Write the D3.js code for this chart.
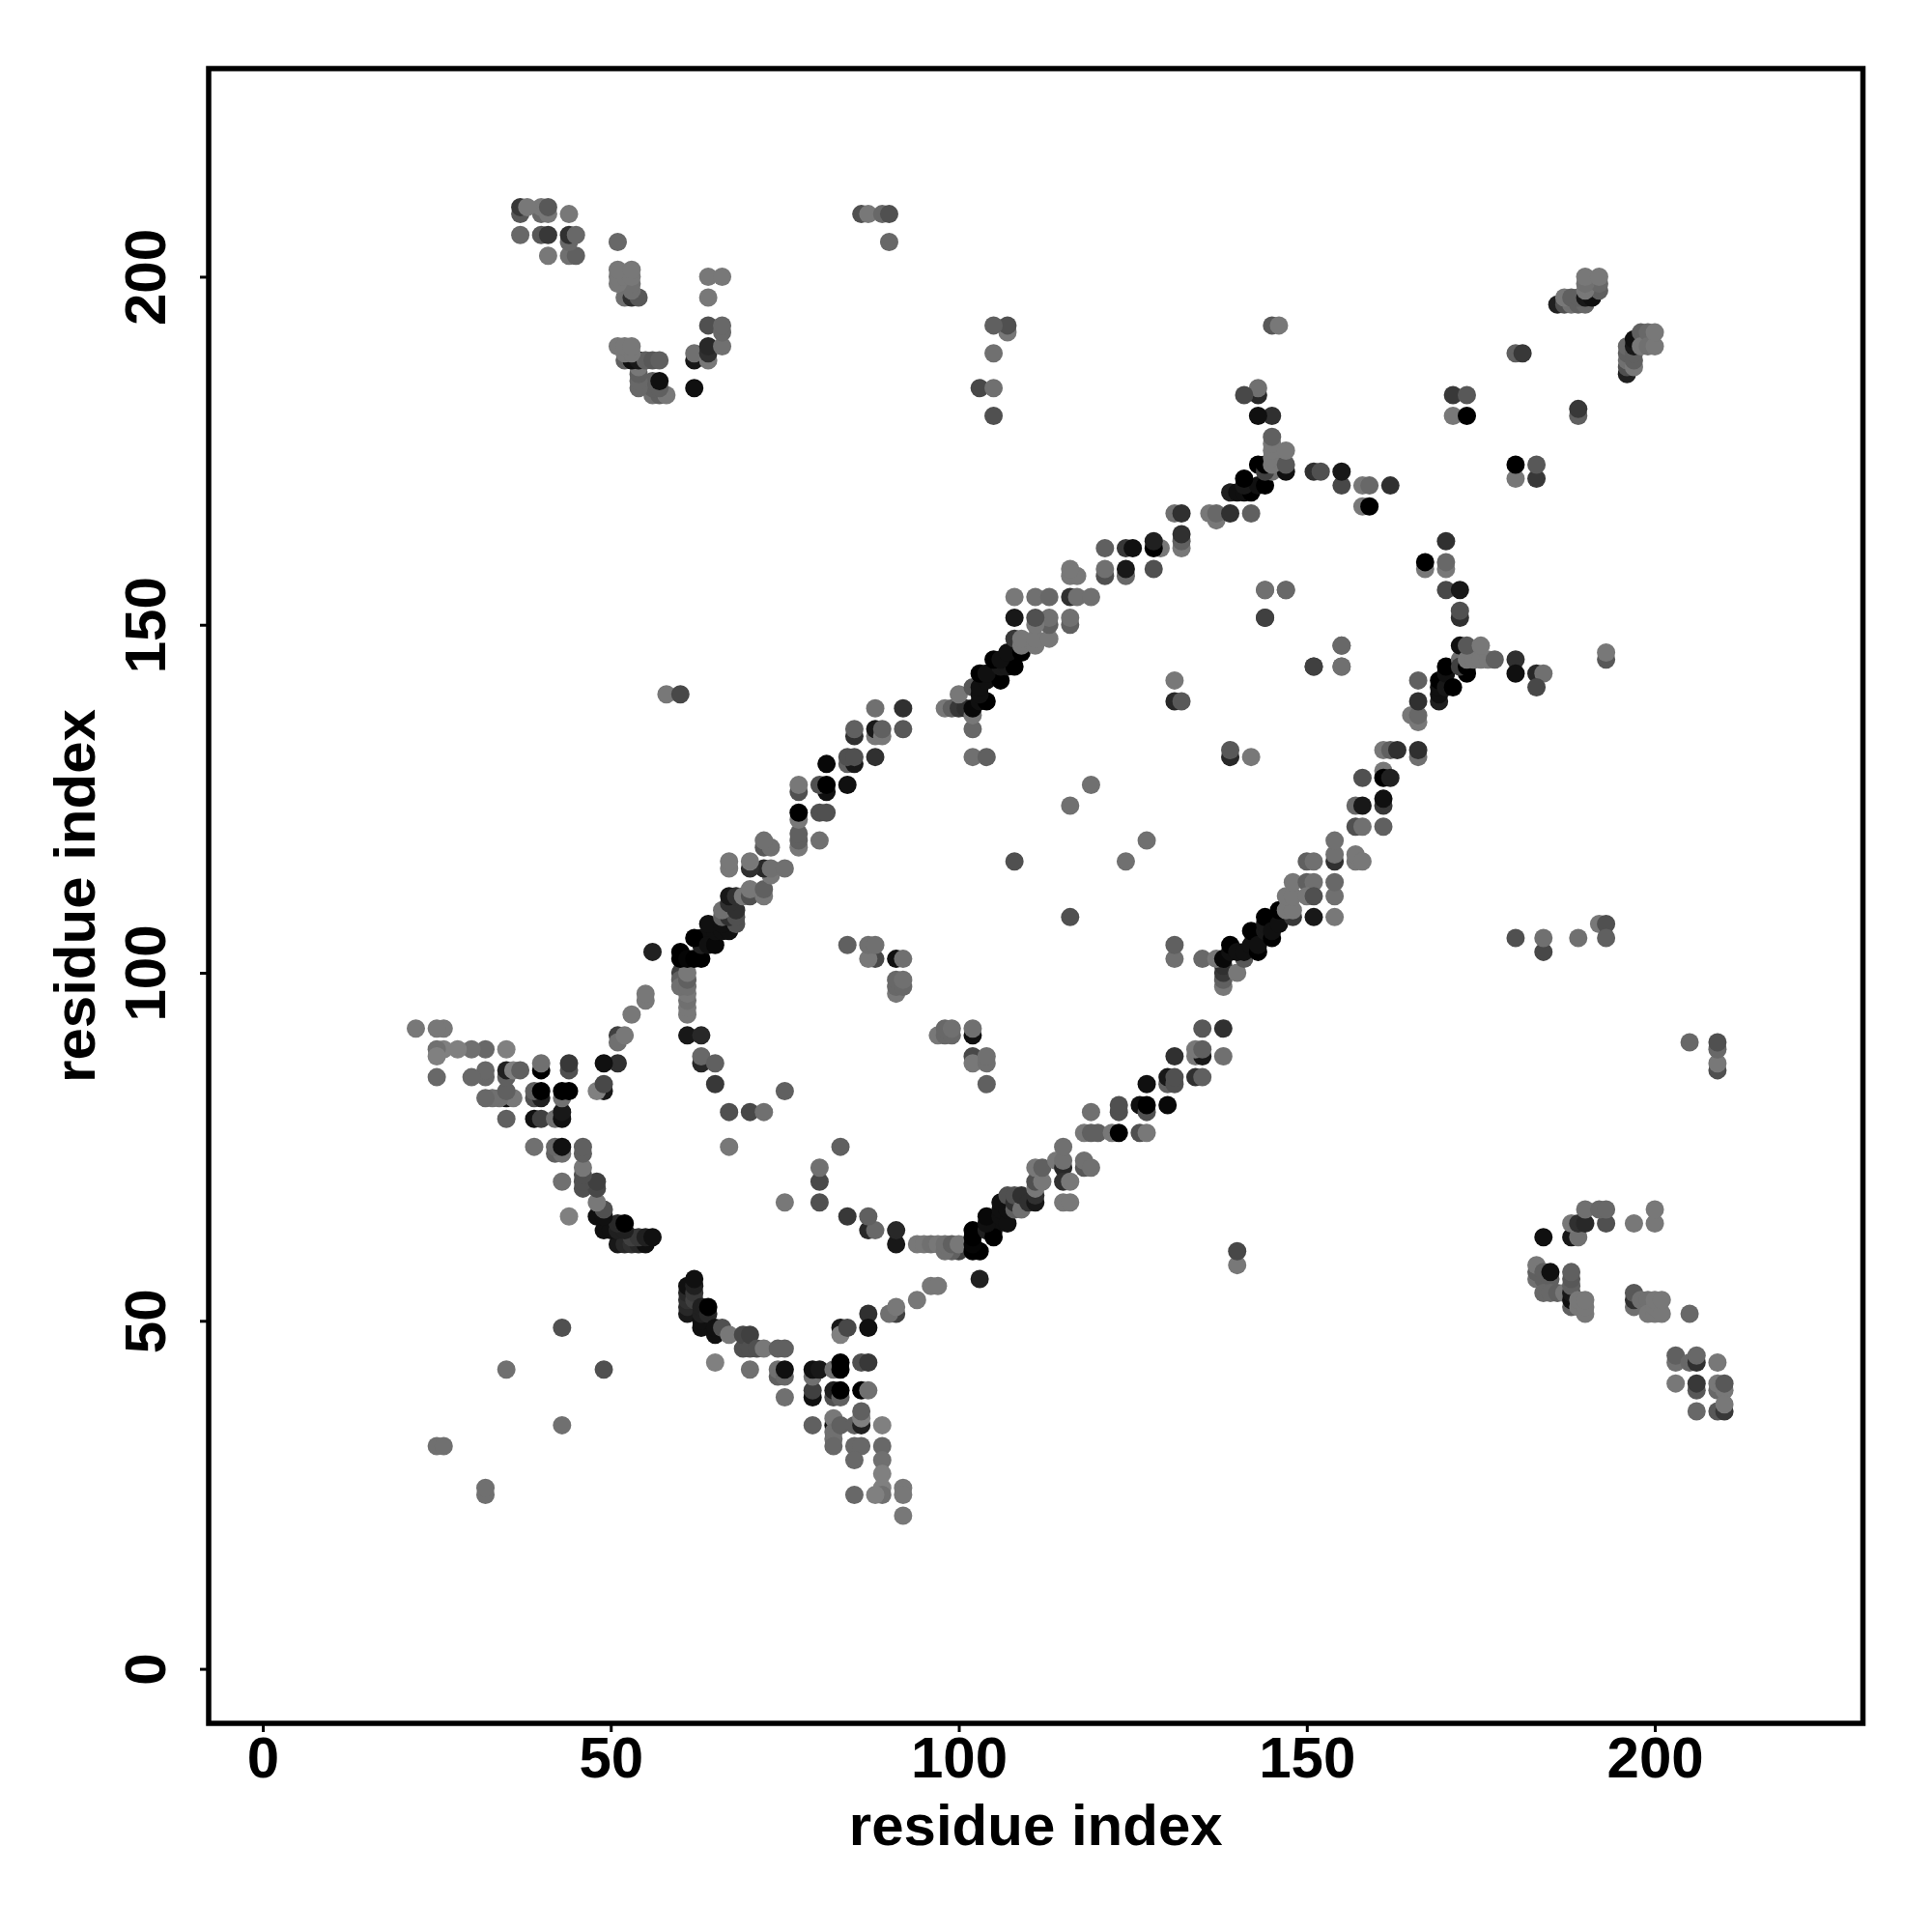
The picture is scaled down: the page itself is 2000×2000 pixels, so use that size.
<!DOCTYPE html>
<html><head><meta charset="utf-8">
<script src="https://cdn.jsdelivr.net/npm/d3@7"></script>
<style>html,body{margin:0;background:#fff}svg{display:block}text{font-family:"Liberation Sans",Arial,sans-serif;font-weight:700;fill:#000}</style>
</head><body><div id="chart"></div>
<script>
// Contact map: symmetric, so each array holds [i, j, grey] with i > j and its mirror [j, i] is drawn too.
const wingStem=[[61,51,0x18],[61,52,0x28],[61,53,0x30],[61,54,0x28],[61,55,0x10],[62,53,0x40],[62,54,0x38],[62,55,0x20],[62,56,0x10],[63,49,0x10],[63,50,0x10],[63,51,0x20],[63,52,0x20],[64,51,0x28],[64,52,0x00],[65,48,0x10],[65,49,0x10],[66,49,0x50],[67,48,0x78],[69,46,0x50],[69,48,0x48],[70,46,0x50],[70,48,0x40],[71,46,0x50],[72,46,0x78],[74,46,0x60],[75,46,0x60],[65,44,0x80],[70,43,0x70]];
const wingCluster=[[74,42,0x60],[74,43,0x70],[75,42,0x68],[75,43,0x10],[75,39,0x70],[79,35,0x60],[79,39,0x10],[79,40,0x40],[79,42,0x70],[79,43,0x10],[80,43,0x18],[82,43,0x70],[83,43,0x00],[83,44,0x00],[86,44,0x50],[87,44,0x38],[82,39,0x50],[82,40,0x20],[83,39,0x60],[83,40,0x00],[86,40,0x00],[87,40,0x70],[82,35,0x10],[82,36,0x78],[82,34,0x70],[82,33,0x70],[82,32,0x68],[83,35,0x60],[85,35,0x60],[86,35,0x20],[86,36,0x80],[86,37,0x60],[89,35,0x80],[85,32,0x68],[86,32,0x68],[89,32,0x68],[85,30,0x68],[89,30,0x70],[89,28,0x80],[89,26,0x80],[89,25,0x70],[88,25,0x80],[85,25,0x68],[92,26,0x78],[92,25,0x78],[92,22,0x78]];
const armToBand=[[83,49,0x18],[83,48,0x80],[84,49,0x48],[87,51,0x30],[87,49,0x10],[91,51,0x40],[90,51,0x70],[91,52,0x78],[94,53,0x78],[96,55,0x78],[97,55,0x78],[103,56,0x20]];
const innerCurve=[[87,63,0x28],[88,63,0x68],[87,65,0x60],[84,65,0x38],[80,67,0x50],[80,70,0x48],[80,72,0x70],[75,67,0x78],[83,75,0x60],[91,61,0x18],[91,63,0x28],[94,61,0x78],[95,61,0x78],[96,61,0x70],[97,61,0x78],[100,60,0x40],[99,60,0x60],[98,60,0x70],[98,61,0x70],[99,61,0x60],[100,61,0x78]];
const centreCluster=[[97,91,0x78],[98,91,0x68],[99,91,0x68],[98,92,0x68],[99,92,0x70],[102,91,0x10],[102,92,0x70],[102,88,0x48],[102,87,0x78],[104,87,0x70],[104,88,0x70],[104,84,0x60]];
const bandLowA=[[102,60,0x00],[103,60,0x00],[102,61,0x05],[102,62,0x00],[102,63,0x00],[104,63,0x20],[105,63,0x10],[105,62,0x00],[104,64,0x10],[104,65,0x08],[106,65,0x10],[106,66,0x10],[106,67,0x10],[107,64,0x10],[107,66,0x10],[107,68,0x50],[108,66,0x60],[108,67,0x30],[108,68,0x50],[109,66,0x70],[109,68,0x30],[110,67,0x30],[111,67,0x18],[111,68,0x30],[111,69,0x78],[111,70,0x50],[112,70,0x78],[111,72,0x78],[112,72,0x60],[114,73,0x78],[115,72,0x28],[115,70,0x30],[115,73,0x70],[115,75,0x70],[116,70,0x78],[118,72,0x58],[118,73,0x70],[119,72,0x70],[115,67,0x78],[116,67,0x78]];
const bandLowB=[[119,80,0x70],[118,77,0x78],[119,77,0x60],[120,77,0x60],[122,77,0x78],[123,77,0x00],[123,80,0x50],[123,81,0x50],[126,81,0x10],[127,80,0x50],[127,81,0x00],[126,77,0x50],[127,77,0x78],[127,84,0x10],[130,81,0x08],[130,84,0x60],[130,85,0x18],[131,84,0x50],[131,85,0x50],[131,88,0x30],[134,85,0x30],[135,85,0x60],[134,88,0x78],[135,88,0x18],[134,89,0x78],[135,89,0x60],[135,92,0x58],[138,92,0x30],[138,88,0x70]];
const bandLowC=[[138,98,0x78],[138,99,0x60],[138,100,0x38],[138,101,0x30],[135,102,0x68],[137,102,0x78],[138,102,0x08],[139,103,0x10],[139,104,0x00],[140,100,0x78],[141,102,0x58],[140,103,0x10],[141,103,0x10],[142,104,0x10],[142,106,0x00],[143,103,0x00],[143,104,0x10],[144,106,0x18],[144,107,0x18],[144,108,0x00],[145,105,0x00],[145,106,0x10],[146,107,0x10],[146,109,0x00],[148,108,0x38],[147,109,0x78],[148,109,0x78],[147,111,0x78],[148,111,0x78],[148,113,0x78]];
const bandLowD=[[150,113,0x60],[151,113,0x70],[150,111,0x78],[151,111,0x50],[151,108,0x18],[154,108,0x78],[154,111,0x70],[154,113,0x68],[150,116,0x60],[151,116,0x70],[154,116,0x30],[154,117,0x70],[154,119,0x70],[157,116,0x78],[157,117,0x78],[158,116,0x78],[157,121,0x50],[158,121,0x70],[161,121,0x60],[157,124,0x68],[158,124,0x18],[161,124,0x38],[161,125,0x10],[158,128,0x50],[161,129,0x78],[161,128,0x00],[162,128,0x20],[161,132,0x78],[162,132,0x60],[163,132,0x30],[166,131,0x70],[166,132,0x30],[165,137,0x78],[166,136,0x78],[166,137,0x68],[166,139,0x30],[169,139,0x20]];
const bandLowE=[[169,140,0x10],[169,141,0x10],[169,142,0x00],[166,142,0x60],[170,141,0x18],[170,143,0x10],[170,144,0x00],[171,141,0x00],[172,145,0x70],[173,143,0x00],[172,144,0x40],[173,144,0x00],[172,147,0x10],[173,145,0x78],[174,145,0x78],[173,147,0x58],[175,145,0x78],[176,145,0x78],[175,147,0x78],[177,145,0x60],[180,145,0x30],[180,143,0x10],[183,143,0x28],[184,143,0x70],[183,141,0x48]];
const spurUpper=[[167,158,0x78],[167,159,0x00],[170,162,0x30],[170,158,0x78],[170,159,0x68],[170,155,0x48],[172,155,0x18],[172,151,0x30],[172,152,0x50]];
const sparseMiddle=[[49,43,0x50],[43,35,0x70],[32,25,0x70],[32,26,0x70],[140,58,0x78],[140,60,0x48],[108,116,0x50],[124,116,0x70],[127,119,0x70],[131,102,0x70],[131,104,0x60],[142,131,0x78],[139,131,0x28],[139,132,0x58],[144,155,0x68],[147,155,0x68],[144,151,0x38],[151,144,0x40],[155,144,0x70],[155,147,0x68],[180,105,0x50],[184,103,0x48],[184,105,0x70],[189,105,0x70],[192,107,0x78],[193,107,0x50],[193,105,0x60],[193,145,0x58],[193,146,0x78],[189,180,0x60],[189,181,0x38],[180,171,0x78],[180,173,0x00],[183,171,0x38],[183,173,0x58]];
const cornerNearDiagonal=[[196,186,0x20],[196,187,0x50],[196,188,0x70],[196,189,0x60],[196,190,0x68],[197,187,0x78],[197,188,0x60],[197,189,0x60],[197,190,0x18],[197,191,0x10],[198,192,0x60],[198,190,0x78],[199,192,0x68],[199,190,0x70],[200,190,0x78],[200,192,0x78]];
const rightBlockA=[[184,62,0x10],[188,62,0x18],[189,62,0x70],[188,64,0x78],[189,64,0x30],[190,64,0x28],[193,64,0x50],[190,66,0x70],[192,66,0x68],[193,66,0x68],[197,64,0x78],[200,64,0x78],[200,66,0x78],[183,56,0x70],[183,57,0x60],[183,58,0x78],[184,56,0x60],[184,57,0x60],[185,56,0x60],[185,57,0x10],[184,54,0x68],[185,54,0x68],[186,54,0x60],[187,54,0x78],[188,52,0x60],[188,53,0x10],[188,54,0x18],[188,55,0x60],[188,56,0x58],[188,57,0x60],[189,52,0x78],[189,53,0x78],[190,51,0x78],[190,52,0x78],[190,53,0x78]];
const rightBlockB=[[197,52,0x70],[197,53,0x30],[197,54,0x58],[198,53,0x70],[199,53,0x70],[199,51,0x78],[200,51,0x78],[200,52,0x78],[200,53,0x78],[201,51,0x78],[201,53,0x78],[205,51,0x68],[203,44,0x70],[203,45,0x60],[205,44,0x68],[206,44,0x30],[206,45,0x68],[209,44,0x78],[203,41,0x78],[206,40,0x58],[206,41,0x38],[209,40,0x68],[209,41,0x78],[210,40,0x78],[210,41,0x58],[206,37,0x68],[209,37,0x58],[210,37,0x38],[210,38,0x78],[205,90,0x68],[209,86,0x50],[209,87,0x78],[209,89,0x68],[209,90,0x50]];
const xTicks=[0,50,100,150,200];
const yTicks=[0,50,100,150,200];
const axisTitle="residue index";

const contacts=[...wingStem,...wingCluster,...armToBand,...innerCurve,...centreCluster,...bandLowA,...bandLowB,...bandLowC,...bandLowD,...bandLowE,...spurUpper,...sparseMiddle,...cornerNearDiagonal,...rightBlockA,...rightBlockB];
const marks=contacts.flatMap(([i,j,g])=>[{x:i,y:j,g},{x:j,y:i,g}]);

const frame={l:216,r:1928.5,t:71,b:1784};
const x=d3.scaleLinear().domain([-7.77,229.9]).range([frame.l,frame.r]);
const y=d3.scaleLinear().domain([-7.83,229.9]).range([frame.b,frame.t]);
const svg=d3.select("#chart").append("svg").attr("width",2000).attr("height",2000);
svg.append("g").selectAll("circle").data(marks).join("circle")
  .attr("cx",d=>x(d.x)).attr("cy",d=>y(d.y)).attr("r",9.5)
  .attr("fill",d=>d3.rgb(d.g,d.g,d.g));
svg.append("rect").attr("x",frame.l).attr("y",frame.t).attr("width",frame.r-frame.l).attr("height",frame.b-frame.t)
  .attr("fill","none").attr("stroke","#000").attr("stroke-width",5.5);
const gx=svg.append("g").attr("transform",`translate(0,${frame.b})`)
  .call(d3.axisBottom(x).tickValues(xTicks).tickSize(9).tickPadding(0).tickFormat(d3.format("d")));
const gy=svg.append("g").attr("transform",`translate(${frame.l},0)`)
  .call(d3.axisLeft(y).tickValues(yTicks).tickSize(9).tickPadding(0).tickFormat(d3.format("d")));
[gx,gy].forEach(g=>{g.select(".domain").remove();g.selectAll("line").attr("stroke","#000").attr("stroke-width",3);});
gx.selectAll("text").attr("y",0).attr("dy",null)
  .attr("transform",`translate(0,56)`).style("font-size","60px").attr("text-anchor","middle");
gy.selectAll("text").attr("x",0).attr("dy",null)
  .attr("transform",`translate(-45,0) rotate(-90)`).style("font-size","60px").attr("text-anchor","middle");
svg.append("text").attr("x",(frame.l+frame.r)/2).attr("y",1910).attr("text-anchor","middle").style("font-size","60px").text(axisTitle);
svg.append("text").attr("transform",`translate(98,${(frame.t+frame.b)/2}) rotate(-90)`).attr("text-anchor","middle").style("font-size","60px").text(axisTitle);
</script></body></html>
